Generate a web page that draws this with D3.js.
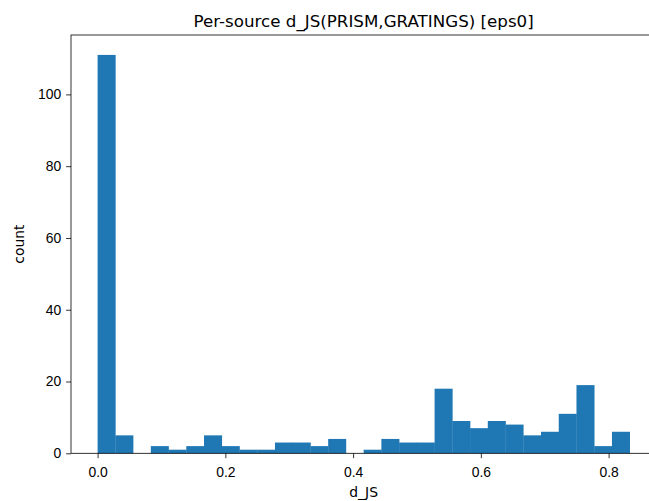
<!DOCTYPE html>
<html>
<head>
<meta charset="utf-8">
<script src="https://cdn.jsdelivr.net/npm/d3@7"></script>
<style>
  body { margin: 0; background: #fff; }
  svg { display: block; font-family: "DejaVu Sans", sans-serif; }
  .axis path, .axis line { stroke: #000; stroke-width: 0.8px; }
  .axis text { font-size: 13.9px; fill: #000; }
</style>
</head>
<body>
<svg width="649" height="501"></svg>
<script>
// histogram of per-source d_JS, 30 equal bins
const binLo = 0.0;
const binHi = 0.833;
const counts = [111, 5, 0, 2, 1, 2, 5, 2, 1, 1,
                3, 3, 2, 4, 0, 1, 4, 3, 3, 18,
                9, 7, 9, 8, 5, 6, 11, 19, 2, 6];
const xTicks = [0.0, 0.2, 0.4, 0.6, 0.8];
const yTicks = [0, 20, 40, 60, 80, 100];

const svg = d3.select("svg");
// axes box (right side runs past the window, like the reference crop)
const axLeft = 71, axTop = 35, axBottom = 453.3;
const nb = counts.length;
const bw = (binHi - binLo) / nb;
const pad = (binHi - binLo) * 0.05;

const pxPerUnit = 638.75;
const xDomain = [binLo - pad, binHi + pad];
const axRight = axLeft + (xDomain[1] - xDomain[0]) * pxPerUnit;

const x = d3.scaleLinear().domain(xDomain).range([axLeft, axRight]);
const y = d3.scaleLinear().domain([0, d3.max(counts) * 1.05]).range([axBottom, axTop]);

const bins = counts.map((c, i) => ({x0: binLo + i * bw, x1: binLo + (i + 1) * bw, n: c}));

svg.append("g")
  .selectAll("rect")
  .data(bins.filter(b => b.n > 0))
  .join("rect")
    .attr("x", b => x(b.x0))
    .attr("width", b => x(b.x1) - x(b.x0) + 0.3)  // tiny overlap, no seams
    .attr("y", b => y(b.n))
    .attr("height", b => y(0) - y(b.n))
    .attr("fill", "#1f77b4");

// axes
const xAxis = svg.append("g")
    .attr("class", "axis")
    .attr("transform", `translate(0,${axBottom})`)
    .call(d3.axisBottom(x).tickValues(xTicks).tickFormat(d3.format(".1f"))
      .tickSizeInner(4.9).tickSizeOuter(0).tickPadding(4.9));
xAxis.select(".domain").remove();
xAxis.selectAll("text").attr("dy", "0.99em");

const yAxis = svg.append("g")
    .attr("class", "axis")
    .attr("transform", `translate(${axLeft},0)`)
    .call(d3.axisLeft(y).tickValues(yTicks).tickFormat(d3.format("d"))
      .tickSizeInner(4.9).tickSizeOuter(0).tickPadding(4.9));
yAxis.select(".domain").remove();

// spines
svg.append("rect")
    .attr("x", axLeft).attr("y", axTop)
    .attr("width", axRight - axLeft).attr("height", axBottom - axTop)
    .attr("fill", "none").attr("stroke", "#000").attr("stroke-width", 0.8);

// title & labels
svg.append("text")
    .attr("x", (axLeft + axRight) / 2).attr("y", 26.5)
    .attr("text-anchor", "middle")
    .style("font-size", "16.7px")
    .text("Per-source d_JS(PRISM,GRATINGS) [eps0]");

svg.append("text")
    .attr("x", (axLeft + axRight) / 2).attr("y", 497)
    .attr("text-anchor", "middle")
    .style("font-size", "13.9px")
    .text("d_JS");

svg.append("text")
    .attr("transform", `translate(23.5,${(axTop + axBottom) / 2}) rotate(-90)`)
    .attr("text-anchor", "middle")
    .style("font-size", "13.9px")
    .text("count");
</script>
</body>
</html>
